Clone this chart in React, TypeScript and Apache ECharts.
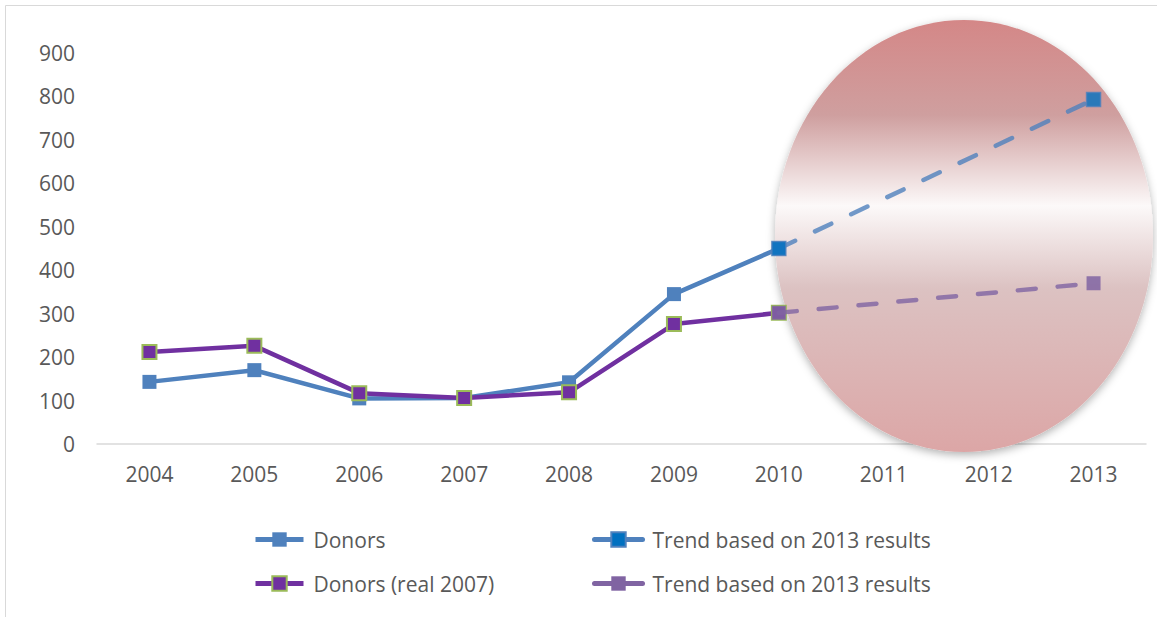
import React, { useEffect, useRef } from "react";
import * as echarts from "echarts";

const categories = ["2004", "2005", "2006", "2007", "2008", "2009", "2010", "2011", "2012", "2013"];
const donors = [143, 170, 105, 106, 142, 345, 450, null, null, null];
const donorsReal = [212, 226, 117, 106, 119, 276, 302, null, null, null];
const trendDonors = [null, null, null, null, null, null, 450, null, null, 793];
const trendReal = [null, null, null, null, null, null, 302, null, null, 370];
const yTicks = { min: 0, max: 900, interval: 100 };
const legendLabels: Record<string, string> = {
  donors: "Donors",
  trendA: "Trend based on 2013 results",
  real: "Donors (real 2007)",
  trendB: "Trend based on 2013 results",
};

const FONT = "Open Sans";
const TEXT = "#595959";
const FS = 21;

export default function App() {
  const ref = useRef<HTMLDivElement>(null);
  useEffect(() => {
    if (!ref.current) return;
    const chart = echarts.init(ref.current, null, { renderer: "svg" });
    const grid = { left: 97, right: 11, top: 53, bottom: 173 };
    const mkLegend = (name: string, left: number, top: number) => ({
      data: [name],
      left,
      top,
      itemWidth: 48,
      itemHeight: 18,
      selectedMode: false,
      formatter: (n: string) => legendLabels[n],
      textStyle: { fontFamily: FONT, fontSize: FS, color: TEXT, padding: [0, 0, 0, 5] },
      lineStyle: { type: "solid", width: 5, opacity: 1 },
      itemStyle: { opacity: 1 },
    });
    chart.setOption({
      animation: false,
      backgroundColor: "#ffffff",
      grid,
      xAxis: {
        type: "category",
        data: categories,
        boundaryGap: true,
        axisLine: { lineStyle: { color: "#d9d9d9", width: 1.5 } },
        axisTick: { show: false },
        axisLabel: { fontFamily: FONT, fontSize: FS, color: TEXT, margin: 19 },
      },
      yAxis: {
        type: "value",
        ...yTicks,
        splitLine: { show: false },
        axisLine: { show: false },
        axisTick: { show: false },
        axisLabel: { fontFamily: FONT, fontSize: FS, color: TEXT, margin: 22 },
      },
      legend: [
        mkLegend("donors", 248, 524),
        mkLegend("trendA", 587, 524),
        mkLegend("real", 248, 568),
        mkLegend("trendB", 587, 568),
      ],
      graphic: [
        {
          type: "rect",
          silent: true,
          z: 0,
          shape: { x: 5.5, y: 5.5, width: 1300, height: 800 },
          style: { fill: "none", stroke: "#d9d9d9", lineWidth: 1 },
        },
        {
          type: "ellipse",
          silent: true,
          z: 1,
          shape: { cx: 964, cy: 236, rx: 189, ry: 216 },
          style: {
            fill: new echarts.graphic.LinearGradient(0, 0, 0, 1, [
              { offset: 0, color: "#d48787" },
              { offset: 0.22, color: "#cf9f9f" },
              { offset: 0.43, color: "#fcf9f9" },
              { offset: 0.62, color: "#dcc2c2" },
              { offset: 1, color: "#dca6a6" },
            ]),
            shadowBlur: 8,
            shadowColor: "rgba(0,0,0,0.3)",
            shadowOffsetY: 3,
          },
        },
      ],
      series: [
        {
          name: "donors",
          type: "line",
          data: donors,
          z: 3,
          symbol: "rect",
          symbolSize: 14,
          lineStyle: { color: "#4f81bd", width: 4.5 },
          itemStyle: { color: "#4f81bd", borderColor: "#4f81bd", borderWidth: 0 },
        },
        {
          name: "trendA",
          type: "line",
          data: trendDonors,
          z: 4,
          connectNulls: true,
          symbol: "rect",
          symbolSize: 14,
          lineStyle: { color: "#4f81bd", width: 4.5, type: [18, 22], cap: "round", opacity: 0.8 },
          itemStyle: { color: "#0070c0", borderColor: "#4f81bd", borderWidth: 1.5, opacity: 0.8 },
        },
        {
          name: "real",
          type: "line",
          data: donorsReal,
          z: 5,
          symbol: "rect",
          symbolSize: 14,
          lineStyle: { color: "#7030a0", width: 4.5 },
          itemStyle: { color: "#7030a0", borderColor: "#9bbb59", borderWidth: 2 },
        },
        {
          name: "trendB",
          type: "line",
          data: trendReal,
          z: 6,
          connectNulls: true,
          symbol: "rect",
          symbolSize: 14,
          lineStyle: { color: "#8064a2", width: 4.5, type: [18, 22], cap: "round", opacity: 0.8 },
          itemStyle: { color: "#8064a2", borderColor: "#8064a2", borderWidth: 0, opacity: 0.85 },
        },
      ],
    });
    return () => chart.dispose();
  }, []);
  return (
    <div
      ref={ref}
      style={{ position: "fixed", left: 0, top: 0, width: 1157, height: 617 }}
    />
  );
}
